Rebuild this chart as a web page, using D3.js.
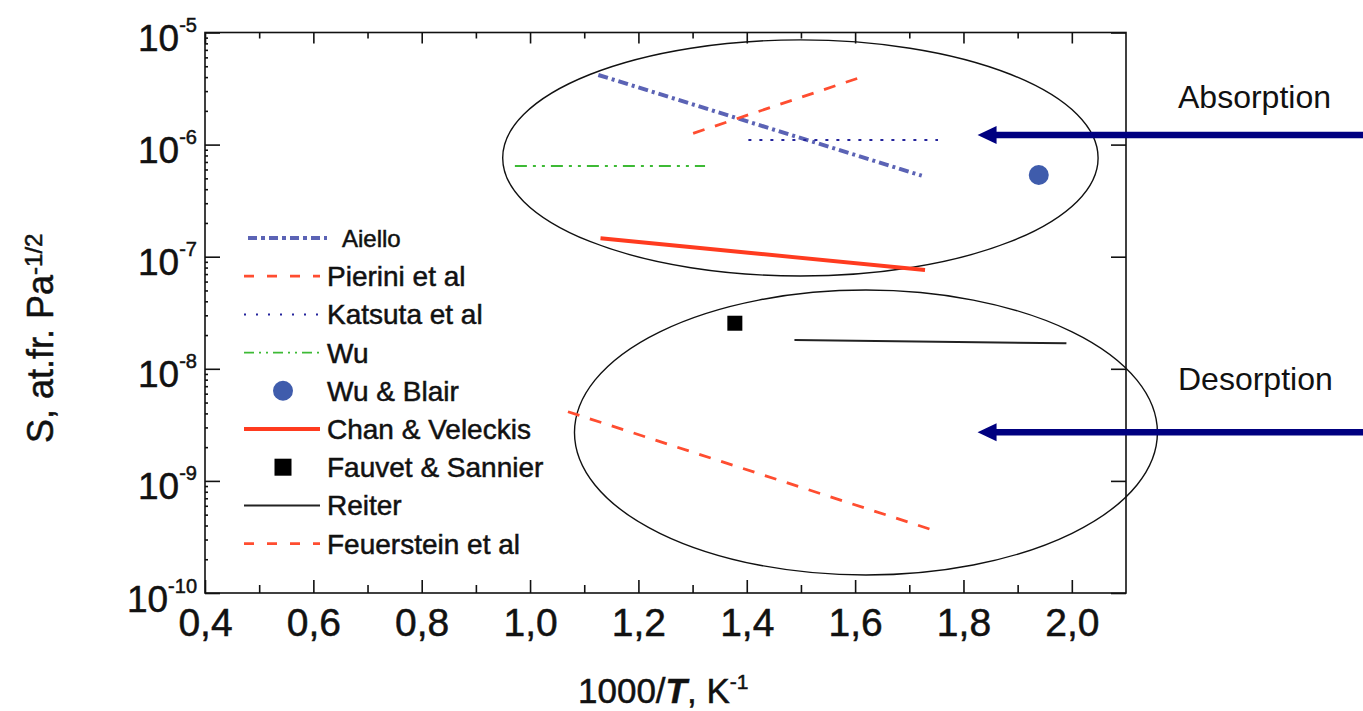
<!DOCTYPE html>
<html>
<head>
<meta charset="utf-8">
<script src="https://cdn.jsdelivr.net/npm/d3@7"></script>
<style>
  body { margin: 0; background: #fff; }
  svg { display: block; font-family: "Liberation Sans", Arial, sans-serif; }
  .heavy { stroke: #111; stroke-width: 0.5px; paint-order: stroke; }
</style>
</head>
<body>
<div id="chart"></div>
<script>
// axis ticks
const xTicks = [0.4, 0.6, 0.8, 1.0, 1.2, 1.4, 1.6, 1.8, 2.0];
const xMinorTicks = [0.5, 0.7, 0.9, 1.1, 1.3, 1.5, 1.7, 1.9];
const yTicks = [1e-10, 1e-9, 1e-8, 1e-7, 1e-6, 1e-5];
const yTickExponents = ["-10", "-9", "-8", "-7", "-6", "-5"];
const yMinorFactors = [2, 3, 4, 5, 6, 7, 8, 9];

// series: [1000/T, S]
const aiello = [[1.126, 4.18e-6], [1.723, 5.28e-7]];
const pierini = [[1.301, 1.26e-6], [1.610, 3.98e-6]];
const katsuta = [[1.403, 1.10e-6], [1.753, 1.10e-6]];
const wu = [[0.972, 6.44e-7], [1.323, 6.44e-7]];
const wuBlair = [[1.939, 5.36e-7]];
const chanVeleckis = [[1.130, 1.46e-7], [1.729, 7.6e-8]];
const fauvetSannier = [[1.378, 2.55e-8]];
const reiter = [[1.488, 1.81e-8], [1.990, 1.69e-8]];
const feuerstein = [[1.070, 4.14e-9], [1.753, 3.52e-10]];

// annotation regions (centre in data units, radii in x units / decades)
const regionCentres = [[1.499, 7.6e-7], [1.620, 2.7e-9]];
const regionRadii = [[0.5495, 1.053], [0.538, 1.271]];
const arrowLabels = ["Absorption", "Desorption"];
const arrowLevels = [1.22e-6, 2.72e-9];
const arrowTipX = 1.826;

const W = 1363, H = 711;
const plot = { left: 205, right: 1126, top: 32.5, bottom: 593 };

const x = d3.scaleLinear().domain([0.4, 2.1]).range([plot.left, plot.right]);
const y = d3.scaleLog().domain([1e-10, 1e-5]).range([plot.bottom, plot.top]);

const svg = d3.select("#chart").append("svg")
    .attr("width", W)
    .attr("height", H);

svg.append("rect").attr("width", W).attr("height", H).attr("fill", "#fff");

const ink = "#111";
const locale = d3.formatLocale({ decimal: ",", thousands: ".", grouping: [3], currency: ["", ""] });
const fmt = locale.format(".1f");

function tidy(g) {
    g.attr("font-family", null).attr("font-size", null);
    g.select(".domain").remove();
    g.selectAll("line").attr("stroke", ink).attr("stroke-width", 1.6);
    g.selectAll("text").attr("fill", ink).attr("class", "heavy");
}

// x axes (bottom with labels, top without), ticks point inward
svg.append("g").attr("transform", `translate(0,${plot.bottom})`)
    .call(d3.axisBottom(x).tickValues(xTicks).tickSizeInner(-13).tickSizeOuter(0).tickPadding(15).tickFormat(fmt))
    .call(tidy)
    .selectAll("text").style("font-size", "39px");
svg.append("g").attr("transform", `translate(0,${plot.bottom})`)
    .call(d3.axisBottom(x).tickValues(xMinorTicks).tickSizeInner(-8).tickSizeOuter(0).tickFormat(""))
    .call(tidy);
svg.append("g").attr("transform", `translate(0,${plot.top})`)
    .call(d3.axisTop(x).tickValues(xTicks).tickSizeInner(-11).tickSizeOuter(0).tickFormat(""))
    .call(tidy);
svg.append("g").attr("transform", `translate(0,${plot.top})`)
    .call(d3.axisTop(x).tickValues(xMinorTicks).tickSizeInner(-6).tickSizeOuter(0).tickFormat(""))
    .call(tidy);

// y axes
const yMinor = [];
yTicks.slice(0, -1).forEach(t => yMinorFactors.forEach(m => yMinor.push(t * m)));

const gy = svg.append("g").attr("transform", `translate(${plot.left},0)`)
    .call(d3.axisLeft(y).tickValues(yTicks).tickSizeInner(-15).tickSizeOuter(0).tickPadding(8).tickFormat(() => "10"))
    .call(tidy);
gy.selectAll(".tick text")
    .attr("dy", null)
    .attr("y", 18)
    .style("font-size", "37px")
    .append("tspan")
    .attr("dy", -19)
    .style("font-size", "20px")
    .text(d => yTickExponents[yTicks.indexOf(d)]);

svg.append("g").attr("transform", `translate(${plot.left},0)`)
    .call(d3.axisLeft(y).tickValues(yMinor).tickSizeInner(-3).tickSizeOuter(0).tickFormat(""))
    .call(tidy);
svg.append("g").attr("transform", `translate(${plot.right},0)`)
    .call(d3.axisRight(y).tickValues(yTicks).tickSizeInner(-15).tickSizeOuter(0).tickFormat(""))
    .call(tidy);

// frame
svg.append("rect")
    .attr("x", plot.left).attr("y", plot.top)
    .attr("width", plot.right - plot.left).attr("height", plot.bottom - plot.top)
    .attr("fill", "none").attr("stroke", ink).attr("stroke-width", 1.6);

// axis titles
const yTitle = svg.append("text")
    .attr("class", "heavy")
    .attr("transform", "translate(53,443) rotate(-90)")
    .attr("fill", ink)
    .style("font-size", "36px");
yTitle.append("tspan").text("S, at.fr. Pa");
yTitle.append("tspan").attr("dy", -11).style("font-size", "24px").text("-1/2");

const xTitle = svg.append("text")
    .attr("class", "heavy")
    .attr("x", 578).attr("y", 703)
    .attr("fill", ink)
    .style("font-size", "35px");
xTitle.append("tspan").text("1000/");
xTitle.append("tspan").style("font-style", "italic").style("font-weight", "bold").text("T");
xTitle.append("tspan").text(", K");
xTitle.append("tspan").attr("dy", -14).style("font-size", "21px").text("-1");

// regions
regionCentres.forEach((c, i) => {
    const [rx, rDec] = regionRadii[i];
    const cx = x(c[0]), cy = y(c[1]);
    svg.append("ellipse")
        .attr("cx", cx).attr("cy", cy)
        .attr("rx", x(c[0] + rx) - cx)
        .attr("ry", cy - y(c[1] * Math.pow(10, rDec)))
        .attr("fill", "none").attr("stroke", ink).attr("stroke-width", 1.4);
});

// series styles
const series = [
    { name: "Aiello", data: aiello, type: "line", color: "#5b63b5", width: 4, dash: "10,4,3,4", legendDash: "9,4,4,4" },
    { name: "Pierini et al", data: pierini, type: "line", color: "#ff4d30", width: 2.8, dash: "12,11", legendDash: "10,13" },
    { name: "Katsuta et al", data: katsuta, type: "line", color: "#24249c", width: 2, dash: "3,8", legendDash: "2,10" },
    { name: "Wu", data: wu, type: "line", color: "#3dba35", width: 1.8, dash: "12,6,3,6,3,6", legendDash: "10,5,2,5,2,5" },
    { name: "Wu & Blair", data: wuBlair, type: "circle", color: "#3f5cac" },
    { name: "Chan & Veleckis", data: chanVeleckis, type: "line", color: "#ff3b1f", width: 4, dash: null, legendDash: null },
    { name: "Fauvet & Sannier", data: fauvetSannier, type: "square", color: "#000" },
    { name: "Reiter", data: reiter, type: "line", color: "#222", width: 2, dash: null, legendDash: null },
    { name: "Feuerstein et al", data: feuerstein, type: "line", color: "#ff4d30", width: 2.8, dash: "12,11", legendDash: "10,13" }
];

const line = d3.line().x(d => x(d[0])).y(d => y(d[1]));

series.forEach(s => {
    if (s.type === "line") {
        svg.append("path").datum(s.data)
            .attr("d", line)
            .attr("fill", "none")
            .attr("stroke", s.color)
            .attr("stroke-width", s.width)
            .attr("stroke-dasharray", s.dash);
    } else if (s.type === "circle") {
        svg.selectAll(null).data(s.data).enter().append("circle")
            .attr("cx", d => x(d[0])).attr("cy", d => y(d[1]))
            .attr("r", 10).attr("fill", s.color);
    } else {
        svg.selectAll(null).data(s.data).enter().append("rect")
            .attr("x", d => x(d[0]) - 7.5).attr("y", d => y(d[1]) - 7.5)
            .attr("width", 15).attr("height", 15).attr("fill", s.color);
    }
});

// legend
const legend = svg.append("g");
series.forEach((s, i) => {
    const cy = 238 + i * 38.2;
    const first = i === 0;
    const g = legend.append("g");
    if (s.type === "line") {
        g.append("line")
            .attr("x1", first ? 248 : 244).attr("x2", first ? 327 : 320)
            .attr("y1", cy).attr("y2", cy)
            .attr("stroke", s.color)
            .attr("stroke-width", s.width)
            .attr("stroke-dasharray", s.legendDash);
    } else if (s.type === "circle") {
        g.append("circle").attr("cx", 283).attr("cy", cy).attr("r", 10).attr("fill", s.color);
    } else {
        g.append("rect").attr("x", 274.5).attr("y", cy - 8.5).attr("width", 17).attr("height", 17).attr("fill", s.color);
    }
    g.append("text")
        .attr("class", "heavy")
        .attr("x", first ? 342 : 327)
        .attr("y", cy + (first ? 8.5 : 10))
        .attr("fill", ink)
        .style("font-size", first ? "24px" : "28px")
        .text(s.name);
});

// arrows + labels on the right
const arrowColor = "#000080";
const labelBaselines = [108, 390];
arrowLevels.forEach((lv, i) => {
    const ay = y(lv), tip = x(arrowTipX);
    svg.append("line")
        .attr("x1", tip + 14).attr("x2", W + 5)
        .attr("y1", ay).attr("y2", ay)
        .attr("stroke", arrowColor).attr("stroke-width", 6.5);
    svg.append("path")
        .attr("d", `M${tip},${ay} L${tip + 19},${ay - 9} L${tip + 19},${ay + 9} Z`)
        .attr("fill", arrowColor);
    svg.append("text")
        .attr("x", 1178).attr("y", labelBaselines[i])
        .attr("fill", ink)
        .style("font-size", "32px")
        .text(arrowLabels[i]);
});
</script>
</body>
</html>
